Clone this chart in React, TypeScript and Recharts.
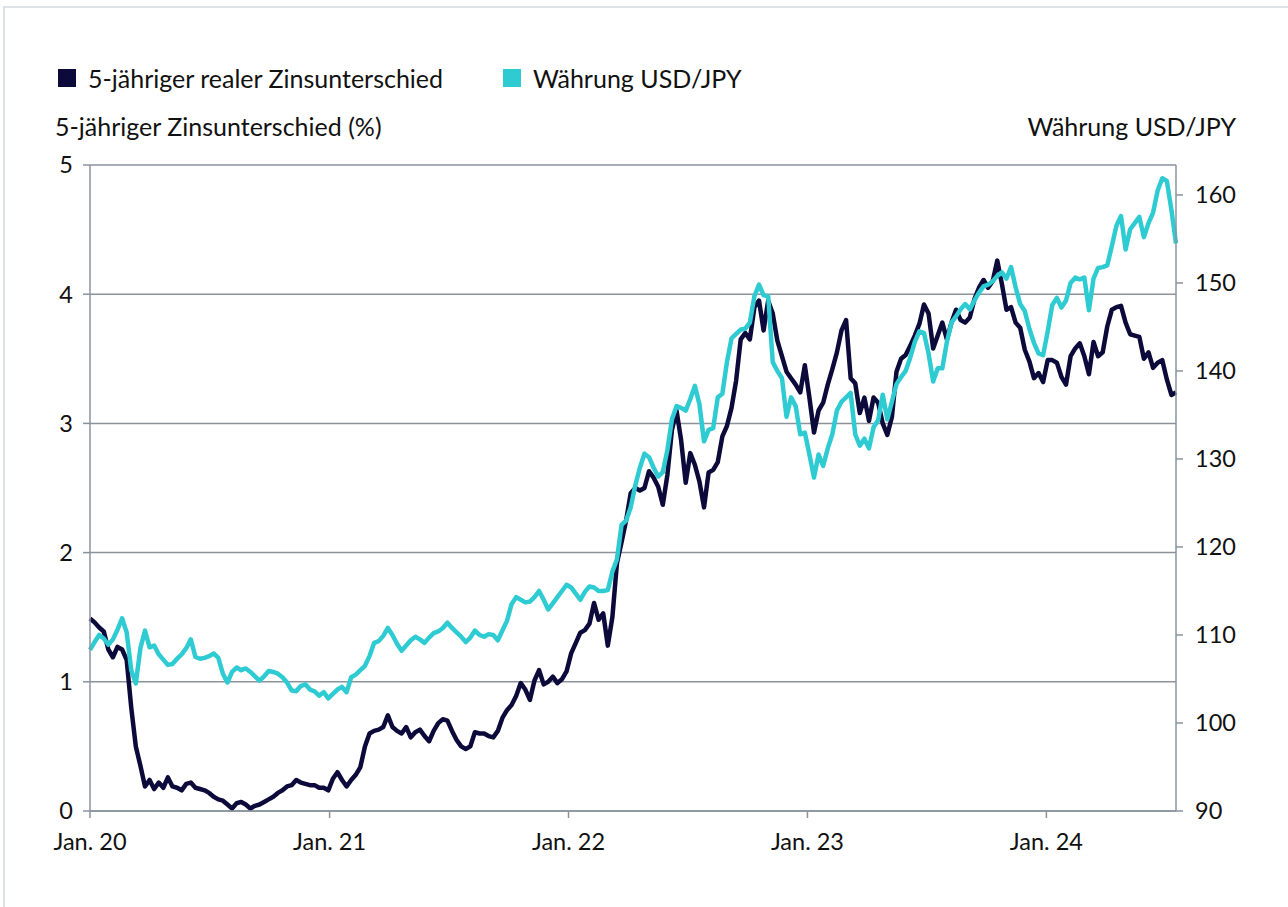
import { LineChart, Line, XAxis, YAxis, CartesianGrid } from "recharts";

// weekly observations starting 1 Jan 2020
const START = Date.UTC(2020, 0, 1);
const WEEK = 7 * 24 * 3600 * 1000;

const zinsDiff = [
  1.49, 1.46, 1.42, 1.39, 1.25, 1.19, 1.27, 1.25, 1.17, 0.8,
  0.5, 0.35, 0.19, 0.24, 0.17, 0.22, 0.18, 0.26, 0.19, 0.18,
  0.16, 0.21, 0.22, 0.18, 0.17, 0.16, 0.14, 0.11, 0.09, 0.08,
  0.05, 0.02, 0.06, 0.07, 0.05, 0.02, 0.04, 0.05, 0.07, 0.09,
  0.11, 0.14, 0.16, 0.19, 0.2, 0.24, 0.22, 0.21, 0.2, 0.2,
  0.18, 0.18, 0.16, 0.25, 0.3, 0.24, 0.19, 0.24, 0.28, 0.34,
  0.5, 0.6, 0.62, 0.63, 0.65, 0.74, 0.65, 0.62, 0.6, 0.65,
  0.57, 0.61, 0.63, 0.58, 0.54, 0.62, 0.68, 0.71, 0.7, 0.62,
  0.55, 0.5, 0.48, 0.5, 0.61, 0.6, 0.6, 0.58, 0.57, 0.62,
  0.72, 0.78, 0.82, 0.89, 0.99, 0.94, 0.86, 1.01, 1.09, 0.98,
  1.0, 1.04, 0.99, 1.02, 1.08, 1.22, 1.3, 1.38, 1.4, 1.45,
  1.61, 1.48, 1.53, 1.28, 1.5, 1.92, 2.08, 2.25, 2.46, 2.5,
  2.48, 2.5, 2.63, 2.58, 2.51, 2.37, 2.6, 2.95, 3.1, 2.87,
  2.54, 2.77, 2.68, 2.55, 2.35, 2.62, 2.64, 2.7, 2.9, 2.98,
  3.12, 3.33, 3.65, 3.7, 3.65, 3.9, 3.95, 3.72, 3.95, 3.85,
  3.64, 3.52, 3.4, 3.35, 3.3, 3.24, 3.45, 3.2, 2.93, 3.1,
  3.16, 3.3, 3.42, 3.55, 3.72, 3.8, 3.35, 3.31, 3.08, 3.2,
  3.02, 3.2, 3.16, 3.0, 2.91, 3.05, 3.4, 3.5, 3.53, 3.6,
  3.68, 3.77, 3.92, 3.85, 3.58, 3.68, 3.78, 3.65, 3.78, 3.88,
  3.8, 3.78, 3.82, 3.96, 4.05, 4.11, 4.05, 4.1, 4.26, 4.08,
  3.88, 3.9, 3.78, 3.74, 3.57, 3.48, 3.35, 3.39, 3.32, 3.49,
  3.49, 3.47, 3.36, 3.3, 3.52, 3.58, 3.62, 3.52, 3.38, 3.63,
  3.52, 3.55, 3.75, 3.88, 3.9, 3.91, 3.78, 3.69, 3.68, 3.67,
  3.5, 3.55, 3.43, 3.47, 3.49, 3.34, 3.22, 3.24,
];

const usdJpy = [
  108.3, 109.2, 110.0, 109.6, 108.9, 109.5, 110.6, 111.9, 110.3, 106.0,
  104.5, 108.5, 110.5, 108.6, 108.8, 107.8, 107.2, 106.6, 106.7, 107.3,
  107.8, 108.5, 109.5, 107.5, 107.3, 107.4, 107.6, 107.9, 107.4, 105.6,
  104.6, 105.8, 106.3, 106.0, 106.2, 105.8, 105.3, 104.8, 105.3, 105.9,
  105.8, 105.6, 105.2, 104.6, 103.7, 103.6, 104.2, 104.4, 103.8, 103.6,
  103.1, 103.5, 102.8, 103.3, 103.8, 104.1, 103.5, 105.2, 105.5, 106.0,
  106.5, 107.6, 109.1, 109.3, 109.9, 110.8, 110.0, 109.0, 108.2, 108.8,
  109.4, 109.8, 109.5, 109.1, 109.7, 110.2, 110.4, 110.8, 111.4, 110.8,
  110.3, 109.8, 109.2, 109.7, 110.5, 110.0, 109.8, 110.1, 110.0, 109.4,
  110.5, 111.6, 113.5, 114.3, 114.0, 113.7, 113.8, 114.3, 115.0, 114.0,
  112.9, 113.6, 114.3, 115.0, 115.7, 115.4, 114.7, 114.0, 114.9, 115.5,
  115.4, 115.0, 115.0, 115.1, 117.2, 118.6, 122.5, 123.0, 124.5, 127.0,
  129.0, 130.6, 130.2, 129.0, 128.0, 128.5, 131.0, 134.5, 136.0, 135.8,
  135.5, 136.8, 138.3, 136.2, 132.0, 133.3, 133.5, 137.0, 137.4, 141.0,
  143.7, 144.2, 144.7, 144.8, 145.5, 148.5, 149.8, 148.6, 148.5, 141.0,
  140.0, 139.2, 134.8, 137.0, 136.0, 132.8, 133.0, 130.5, 127.9, 130.5,
  129.2, 131.2, 132.8, 135.5, 136.5, 137.0, 137.5, 132.8, 131.5, 132.3,
  131.2, 133.6, 134.4, 137.3, 134.5, 136.5, 138.5, 139.3, 140.0, 141.5,
  143.3, 144.5, 144.3, 142.0, 138.8, 140.3, 140.3, 143.3, 145.5, 146.2,
  147.0, 147.6, 147.0, 148.0, 148.9, 149.6, 149.8, 150.2, 150.8, 151.2,
  150.5, 151.8, 149.5, 147.6, 146.8, 144.8, 143.2, 142.0, 141.8, 144.5,
  147.5, 148.3, 147.2, 148.0, 150.0, 150.6, 150.4, 150.6, 146.9, 150.5,
  151.7, 151.8, 152.0, 154.2, 156.5, 157.6, 153.8, 156.1, 156.8, 157.5,
  155.2, 156.8, 158.0, 160.5, 161.9, 161.6, 158.3, 154.5,
];

const yearTicks = [2020, 2021, 2022, 2023, 2024];
const leftTicks = [0, 1, 2, 3, 4, 5];
const rightTicks = [90, 100, 110, 120, 130, 140, 150, 160];

const NAVY = "#0b0a3a";
const CYAN = "#2ecbd3";
const AXIS = "#8a939c";
const FONT = "Lato, 'Noto Sans', sans-serif";

const data = zinsDiff.map((v, i) => ({
  t: START + i * WEEK,
  zins: v,
  usdjpy: usdJpy[i],
}));

const legendItems = [
  { label: "5-jähriger realer Zinsunterschied", color: NAVY, left: 58 },
  { label: "Währung USD/JPY", color: CYAN, left: 503 },
];

const textStyle = { fontFamily: FONT, fontSize: 25, color: "#111", lineHeight: "30px", whiteSpace: "nowrap" as const };
const tickStyle = { fill: "#111", fontSize: 23.5, fontFamily: FONT };

export default function App() {
  return (
    <div
      style={{
        position: "absolute",
        left: 0,
        top: 0,
        width: 1288,
        height: 907,
        background: "#fff",
        overflow: "hidden",
      }}
    >
      <div
        style={{
          position: "absolute",
          left: 3,
          top: 6,
          right: -2,
          bottom: -2,
          border: "2px solid #dde2e7",
        }}
      />
      {legendItems.map((it) => (
        <div
          key={it.label}
          style={{ position: "absolute", left: it.left, top: 63, display: "flex", alignItems: "center", gap: 12, ...textStyle }}
        >
          <span style={{ width: 18, height: 18, background: it.color, display: "inline-block" }} />
          <span>{it.label}</span>
        </div>
      ))}
      <div style={{ position: "absolute", left: 55, top: 111, ...textStyle }}>
        5-jähriger Zinsunterschied (%)
      </div>
      <div style={{ position: "absolute", right: 52, top: 111, ...textStyle }}>
        Währung USD/JPY
      </div>
      <LineChart
        width={1288}
        height={907}
        data={data}
        margin={{ top: 165, right: 0, bottom: 56, left: 0 }}
        style={{ position: "absolute", left: 0, top: 0 }}
      >
        <CartesianGrid yAxisId="left" vertical={false} stroke={AXIS} strokeWidth={1.5} />
        <XAxis
          dataKey="t"
          type="number"
          scale="time"
          domain={["dataMin", "dataMax"]}
          ticks={yearTicks.map((y) => Date.UTC(y, 0, 1))}
          tickFormatter={(d: number) => "Jan. " + String(new Date(d).getUTCFullYear()).slice(2)}
          tick={tickStyle}
          stroke={AXIS}
          strokeWidth={1.5}
          tickSize={7}
          tickMargin={15}
          height={40}
        />
        <YAxis
          yAxisId="left"
          domain={[0, 5]}
          ticks={leftTicks}
          tick={tickStyle}
          stroke={AXIS}
          strokeWidth={1.5}
          tickSize={7}
          tickMargin={10}
          width={90}
          allowDataOverflow
        />
        <YAxis
          yAxisId="right"
          orientation="right"
          domain={[90, 163.4]}
          ticks={rightTicks}
          tick={{ ...tickStyle, textAnchor: "start" }}
          stroke={AXIS}
          strokeWidth={1.5}
          tickSize={7}
          tickMargin={12}
          width={112}
          allowDataOverflow
        />
        <Line
          yAxisId="left"
          dataKey="zins"
          name="5-jähriger realer Zinsunterschied"
          stroke={NAVY}
          strokeWidth={4.5}
          dot={false}
          strokeLinejoin="round"
          isAnimationActive={false}
        />
        <Line
          yAxisId="right"
          dataKey="usdjpy"
          name="Währung USD/JPY"
          stroke={CYAN}
          strokeWidth={4.5}
          dot={false}
          strokeLinejoin="round"
          isAnimationActive={false}
        />
      </LineChart>
    </div>
  );
}
